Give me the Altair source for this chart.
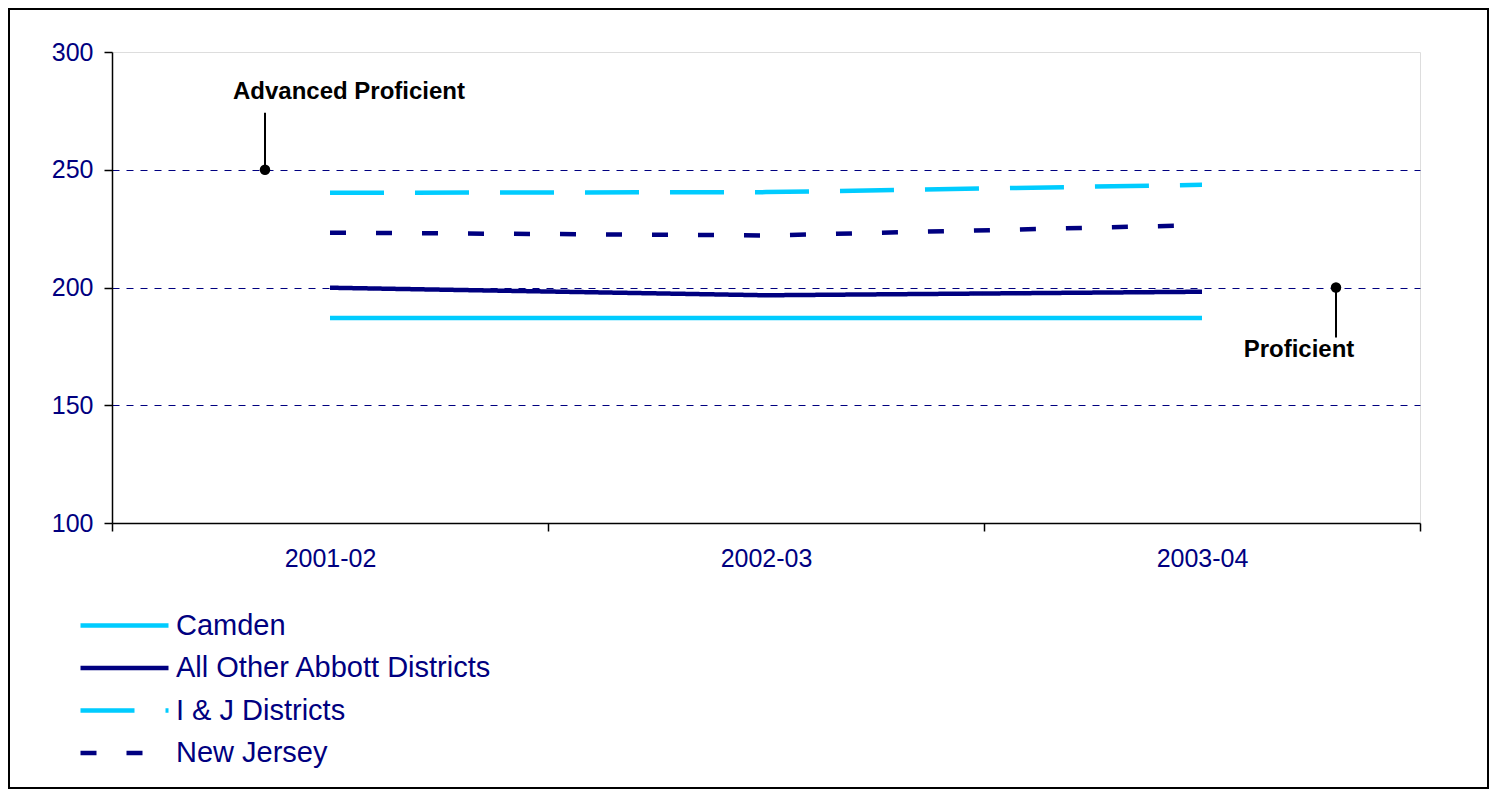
import altair as alt
import pandas as pd

years = ["2001-02", "2002-03", "2003-04"]
series_names = ["Camden", "All Other Abbott Districts", "I & J Districts", "New Jersey"]
camden = [187.0, 187.0, 187.0]
abbott = [199.9, 196.7, 198.2]
ij_districts = [240.2, 240.5, 243.6]
new_jersey = [223.3, 222.1, 226.5]
y_ticks = [100, 150, 200, 250, 300]

series_colors = ["#00CCFF", "#000080", "#00CCFF", "#000080"]
series_dashes = [[1, 0], [1, 0], [54, 31], [16, 30]]
series_widths = [4.5, 4.5, 8, 7]

rows = []
for name, vals in zip(series_names, [camden, abbott, ij_districts, new_jersey]):
    for yr, v in zip(years, vals):
        rows.append({"series": name, "year": yr, "score": v})
df = pd.DataFrame(rows)

FONT = "Arial, Liberation Sans, sans-serif"
NAVY = "#000080"

legend = alt.Legend(
    title=None, orient="none", legendX=-2, legendY=559, padding=0,
    symbolType="M-4,0H4", symbolSize=484, labelOffset=37,
    labelFontSize=29, labelColor=NAVY, labelFont=FONT, rowPadding=12.5,
    labelLimit=600,
)

x_enc = alt.X("year:N", sort=years, title=None,
              scale=alt.Scale(domain=years, paddingInner=0, paddingOuter=0),
              axis=alt.Axis(tickBand="extent", labelAngle=0, tickSize=8,
                            labelPadding=15, labelFontSize=25, labelColor=NAVY,
                            labelFont=FONT, domainColor="black", tickColor="black",
                            domainWidth=1.5, tickWidth=1.5, grid=False))
y_enc = alt.Y("score:Q", title=None,
              scale=alt.Scale(domain=[100, 300], nice=False, zero=False),
              axis=alt.Axis(values=y_ticks, tickSize=8, labelPadding=11,
                            labelFontSize=25, labelColor=NAVY, labelFont=FONT,
                            domainColor="black", tickColor="black",
                            domainWidth=1.5, tickWidth=1.5,
                            grid=True, gridColor=NAVY, gridDash=[7, 7], gridWidth=1,
                            gridOpacity={"condition": {"test": "datum.value == 100 || datum.value == 300", "value": 0}, "value": 1}))

lines = alt.Chart(df).mark_line(strokeCap="butt").encode(
    x=x_enc,
    y=y_enc,
    color=alt.Color("series:N", scale=alt.Scale(domain=series_names, range=series_colors), legend=legend),
    strokeDash=alt.StrokeDash("series:N", scale=alt.Scale(domain=series_names, range=series_dashes), legend=legend),
    strokeWidth=alt.StrokeWidth("series:N", scale=alt.Scale(domain=series_names, range=series_widths), legend=legend),
    order=alt.Order("year:N"),
)

# annotations (label, year band, level, leader end, text level, pixel offsets)
ann_labels = ["Advanced Proficient", "Proficient"]
ann_years = ["2001-02", "2003-04"]
ann_levels = [250, 200]
ann_leader_ends = [274.2, 178.8]
ann_text_levels = [283.0, 173.6]
ann_point_offsets = [-65, 134]
ann_text_offsets = [19, 97]

ann_layers = []
for lab, yr, lvl, lend, tl, po, to in zip(ann_labels, ann_years, ann_levels, ann_leader_ends,
                                           ann_text_levels, ann_point_offsets, ann_text_offsets):
    d = pd.DataFrame([{"year": yr, "level": lvl, "lend": lend, "tl": tl, "label": lab}])
    base = alt.Chart(d)
    ann_layers.append(base.mark_rule(color="black", strokeWidth=2, xOffset=po).encode(
        x=alt.X("year:N", sort=years), y=alt.Y("level:Q"), y2="lend:Q"))
    ann_layers.append(base.mark_circle(color="black", opacity=1, size=110, xOffset=po).encode(
        x=alt.X("year:N", sort=years), y=alt.Y("level:Q")))
    ann_layers.append(base.mark_text(font=FONT, fontSize=24, fontWeight="bold", color="black",
                                     align="center", baseline="middle", dx=to).encode(
        x=alt.X("year:N", sort=years), y=alt.Y("tl:Q"), text="label:N"))

frame = alt.Chart(alt.Data(values=[{"a": 1}])).mark_rect(
    filled=False, stroke="black", strokeWidth=2, clip=False).encode(
    x=alt.value(-103), x2=alt.value(1376), y=alt.value(-43), y2=alt.value(736))

chart = alt.layer(lines, *ann_layers, frame).properties(
    width=1308, height=471,
    padding={"left": 104, "top": 44, "right": 69, "bottom": 267},
    autosize=alt.AutoSizeParams(type="none"),
).configure_view(stroke="#808080", strokeWidth=2).configure(background="white")

chart.save("out.html", embed_options={"renderer": "svg", "actions": False})
